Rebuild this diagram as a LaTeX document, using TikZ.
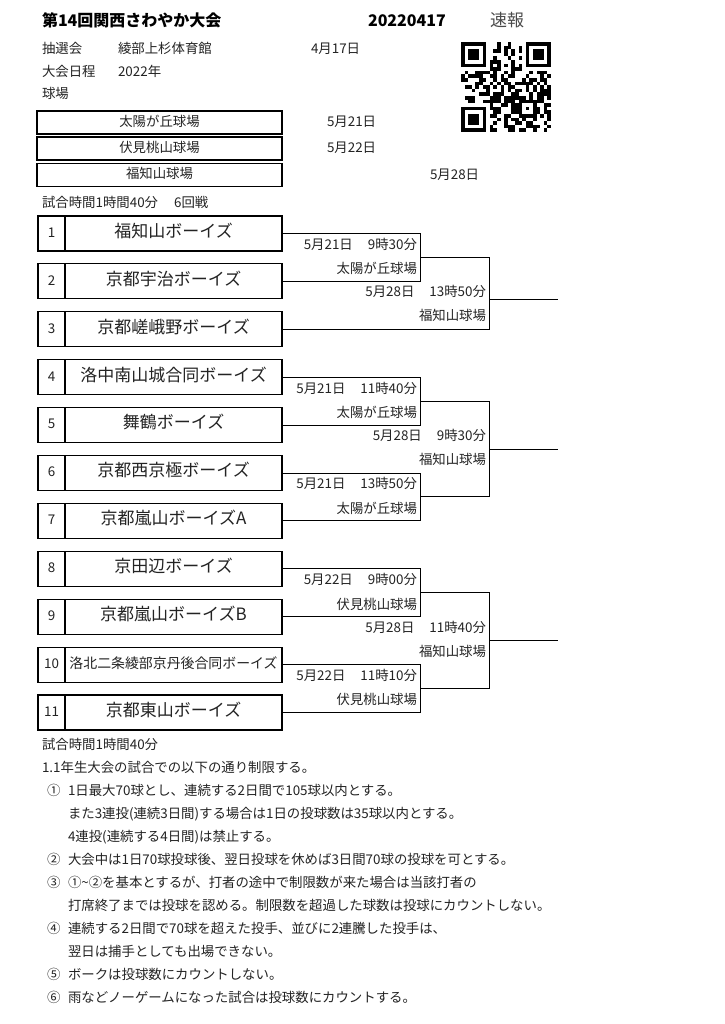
\documentclass[tikz,border=0pt]{standalone}
\usepackage{fontspec}
\setmainfont{Noto Sans CJK JP}
\usetikzlibrary{positioning,calc}
\definecolor{inkgray}{RGB}{35,35,35}
\definecolor{softgray}{RGB}{75,75,75}

\begin{document}
\begin{tikzpicture}[x=1pt, y=-1pt,
    every node/.style={inner sep=0pt, outer sep=0pt, text height=.83em, text depth=.07em, text=inkgray},
    txt/.style={anchor=west, font=\fontsize{13.4}{15}\selectfont},
    ttl/.style={anchor=west, font=\fontsize{16}{18}\selectfont\bfseries, text=black},
    venue/.style={draw=black, line width=1.1pt, minimum width=245pt, minimum height=23pt, font=\fontsize{13.4}{15}\selectfont},
    teamno/.style={draw=black, line width=1.1pt, minimum width=27pt, minimum height=35pt, font=\fontsize{13.4}{15}\selectfont},
    teamname/.style={draw=black, line width=1.1pt, minimum width=217pt, minimum height=35pt, font=\fontsize{17}{19}\selectfont},
    lbl/.style={anchor=east, font=\fontsize{13.4}{15}\selectfont},
    bline/.style={line width=1pt, black}
]
\fill[white] (0,0) rectangle (724,1024);
\useasboundingbox (0,0) rectangle (724,1024);

% header
\node[ttl] (title) at (42,23) {第14回関西さわやか大会};
\node[ttl] (stamp) at (368,23) {20220417};
\node[anchor=west, font=\fontsize{17}{19}\selectfont, text=softgray] (flash) at (490,23) {速報};
\node[txt] (lot)      at (42,50)  {抽選会};
\node[txt] (lotplace) at (118,50) {綾部上杉体育館};
\node[txt] (lotdate)  at (311,50) {4月17日};
\node[txt] (sched)    at (42,73)  {大会日程};
\node[txt] (year)     at (118,73) {2022年};
\node[txt] (fields)   at (42,95)  {球場};

% qr code
\pgfmathsetseed{2022}
\foreach \r in {0,...,24}{
  \foreach \c in {0,...,24}{
    \pgfmathtruncatemacro\qq{rnd<0.5 ? 1 : 0}
    \ifnum\qq=1 \fill[black] ({461+\c*3.6},{42+\r*3.6}) rectangle ++(3.65,3.65);\fi
  }
}
\foreach \fx/\fy in {0/0,18/0,0/18}{
  \fill[white] ({461+(\fx-1)*3.6},{42+(\fy-1)*3.6}) rectangle ++(32.4,32.4);
  \fill[black] ({461+\fx*3.6},{42+\fy*3.6}) rectangle ++(25.2,25.2);
  \fill[white] ({461+(\fx+1)*3.6},{42+(\fy+1)*3.6}) rectangle ++(18,18);
  \fill[black] ({461+(\fx+2)*3.6},{42+(\fy+2)*3.6}) rectangle ++(10.8,10.8);
}
\fill[white] (461+28.8,42+21.6) rectangle ++(32.4,3.6);
\fill[white] (461+21.6,42+28.8) rectangle ++(3.6,32.4);
\foreach \k in {8,10,...,16}{
  \fill[black] ({461+\k*3.6},{42+6*3.6}) rectangle ++(3.65,3.65);
  \fill[black] ({461+6*3.6},{42+\k*3.6}) rectangle ++(3.65,3.65);
}
\fill[black] (461+57.6,42+57.6) rectangle ++(18,18);
\fill[white] (461+61.2,42+61.2) rectangle ++(10.8,10.8);
\fill[black] (461+64.8,42+64.8) rectangle ++(3.6,3.6);

% venues
\node[venue] (v1) at (159.5,122.5) {太陽が丘球場};
\node[venue] (v2) at (159.5,148.5) {伏見桃山球場};
\node[venue] (v3) at (159.5,175)   {福知山球場};
\node[txt] (vd1) at (327,122.5) {5月21日};
\node[txt] (vd2) at (327,148.5) {5月22日};
\node[txt] (vd3) at (430,176)   {5月28日};
\node[txt] (rule1) at (42,204) {試合時間1時間40分\hspace*{16pt}6回戦};

% teams
\node[teamno] (n1) at (51.5,233.5) {1};
\node[teamname, right=0pt of n1] (t1) {福知山ボーイズ};
\node[teamno] (n2) at (51.5,281.4) {2};
\node[teamname, right=0pt of n2] (t2) {京都宇治ボーイズ};
\node[teamno] (n3) at (51.5,329.3) {3};
\node[teamname, right=0pt of n3] (t3) {京都嵯峨野ボーイズ};
\node[teamno] (n4) at (51.5,377.2) {4};
\node[teamname, right=0pt of n4] (t4) {洛中南山城合同ボーイズ};
\node[teamno] (n5) at (51.5,425.1) {5};
\node[teamname, right=0pt of n5] (t5) {舞鶴ボーイズ};
\node[teamno] (n6) at (51.5,473.0) {6};
\node[teamname, right=0pt of n6] (t6) {京都西京極ボーイズ};
\node[teamno] (n7) at (51.5,520.9) {7};
\node[teamname, right=0pt of n7] (t7) {京都嵐山ボーイズA};
\node[teamno] (n8) at (51.5,568.8) {8};
\node[teamname, right=0pt of n8] (t8) {京田辺ボーイズ};
\node[teamno] (n9) at (51.5,616.7) {9};
\node[teamname, right=0pt of n9] (t9) {京都嵐山ボーイズB};
\node[teamno] (n10) at (51.5,664.6) {10};
\node[teamname, right=0pt of n10, font=\fontsize{13.9}{16}\selectfont] (t10) {洛北二条綾部京丹後合同ボーイズ};
\node[teamno] (n11) at (51.5,712.5) {11};
\node[teamname, right=0pt of n11] (t11) {京都東山ボーイズ};

% bracket columns
\coordinate (colA) at (420,0);
\coordinate (colB) at (489,0);
\coordinate (colC) at (558,0);

% block 1
\draw[bline] (t1.east) -| (colA|-t2.east) -- (t2.east);
\coordinate (m12) at ($(colA|-t1.east)!.5!(colA|-t2.east)$);
\draw[bline] (m12) -| (colB|-t3.east) -- (t3.east);
\coordinate (f1) at (489,299);
\draw[bline] (f1) -- (f1-|colC);
\node[lbl] (g1a) at ($(colA|-t1.east)+(-3,12)$) {5月21日\hspace*{15pt}9時30分};
\node[lbl] (g1b) at ($(colA|-t2.east)+(-3,-11.5)$) {太陽が丘球場};
\node[lbl] (g1c) at ($(f1)+(-3,-6)$) {5月28日\hspace*{15pt}13時50分};
\node[lbl] (g1d) at ($(f1)+(-3,18)$) {福知山球場};

% block 2
\draw[bline] (t4.east) -| (colA|-t5.east) -- (t5.east);
\draw[bline] (t6.east) -| (colA|-t7.east) -- (t7.east);
\coordinate (m45) at ($(colA|-t4.east)!.5!(colA|-t5.east)$);
\coordinate (m67) at ($(colA|-t6.east)!.5!(colA|-t7.east)$);
\draw[bline] (m45) -| (colB|-m67) -- (m67);
\coordinate (f2) at ($(colB|-m45)!.5!(colB|-m67)$);
\draw[bline] (f2) -- (f2-|colC);
\node[lbl] (g2a) at ($(colA|-t4.east)+(-3,12)$) {5月21日\hspace*{15pt}11時40分};
\node[lbl] (g2b) at ($(colA|-t5.east)+(-3,-11.5)$) {太陽が丘球場};
\node[lbl] (g2c) at ($(f2)+(-3,-12)$) {5月28日\hspace*{15pt}9時30分};
\node[lbl] (g2d) at ($(f2)+(-3,12)$) {福知山球場};
\node[lbl] (g2e) at ($(colA|-t6.east)+(-3,12)$) {5月21日\hspace*{15pt}13時50分};
\node[lbl] (g2f) at ($(colA|-t7.east)+(-3,-11.5)$) {太陽が丘球場};

% block 3
\draw[bline] (t8.east) -| (colA|-t9.east) -- (t9.east);
\draw[bline] (t10.east) -| (colA|-t11.east) -- (t11.east);
\coordinate (m89) at ($(colA|-t8.east)!.5!(colA|-t9.east)$);
\coordinate (m1011) at ($(colA|-t10.east)!.5!(colA|-t11.east)$);
\draw[bline] (m89) -| (colB|-m1011) -- (m1011);
\coordinate (f3) at ($(colB|-m89)!.5!(colB|-m1011)$);
\draw[bline] (f3) -- (f3-|colC);
\node[lbl] (g3a) at ($(colA|-t8.east)+(-3,12)$) {5月22日\hspace*{15pt}9時00分};
\node[lbl] (g3b) at ($(colA|-t9.east)+(-3,-11.5)$) {伏見桃山球場};
\node[lbl] (g3c) at ($(f3)+(-3,-12)$) {5月28日\hspace*{15pt}11時40分};
\node[lbl] (g3d) at ($(f3)+(-3,12)$) {福知山球場};
\node[lbl] (g3e) at ($(colA|-t10.east)+(-3,12)$) {5月22日\hspace*{15pt}11時10分};
\node[lbl] (g3f) at ($(colA|-t11.east)+(-3,-11.5)$) {伏見桃山球場};

% rules
\node[txt] (rule2) at (42,746) {試合時間1時間40分};
\node[txt] (rule3) at (42,769) {1.1年生大会の試合での以下の通り制限する。};
\node[txt] (k1)  at (47,792) {①};
\node[txt] (k1a) at (68,792) {1日最大70球とし、連続する2日間で105球以内とする。};
\node[txt] (k1b) at (68,815) {また3連投(連続3日間)する場合は1日の投球数は35球以内とする。};
\node[txt] (k1c) at (68,838) {4連投(連続する4日間)は禁止する。};
\node[txt] (k2)  at (47,861) {②};
\node[txt] (k2a) at (68,861) {大会中は1日70球投球後、翌日投球を休めば3日間70球の投球を可とする。};
\node[txt] (k3)  at (47,884) {③};
\node[txt] (k3a) at (68,884) {①\textasciitilde②を基本とするが、打者の途中で制限数が来た場合は当該打者の};
\node[txt] (k3b) at (68,907) {打席終了までは投球を認める。制限数を超過した球数は投球にカウントしない。};
\node[txt] (k4)  at (47,930) {④};
\node[txt] (k4a) at (68,930) {連続する2日間で70球を超えた投手、並びに2連騰した投手は、};
\node[txt] (k4b) at (68,953) {翌日は捕手としても出場できない。};
\node[txt] (k5)  at (47,976) {⑤};
\node[txt] (k5a) at (68,976) {ボークは投球数にカウントしない。};
\node[txt] (k6)  at (47,999) {⑥};
\node[txt] (k6a) at (68,999) {雨などノーゲームになった試合は投球数にカウントする。};
\end{tikzpicture}
\end{document}
